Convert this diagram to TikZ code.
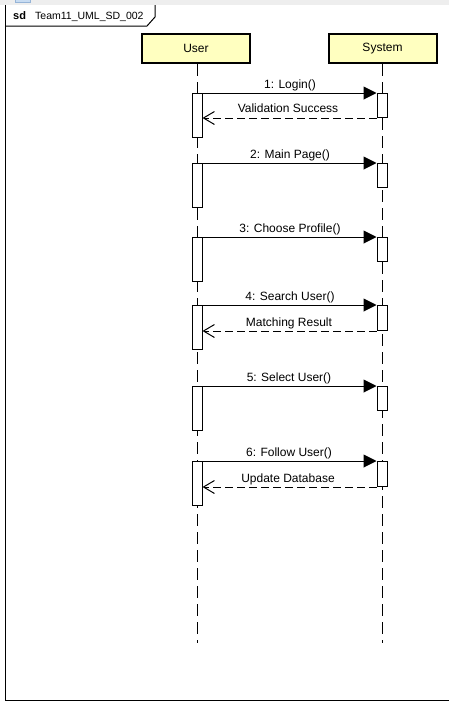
\documentclass[tikz,border=0pt]{standalone}
\usepackage{fontspec}
\setmainfont{Liberation Sans}
\usetikzlibrary{arrows.meta}
\tikzset{
  actor/.style={draw, line width=2pt, fill=actorfill, minimum width=108pt, minimum height=29pt, inner sep=0pt, font=\fontsize{12}{14}\selectfont},
  actbar/.style={draw, line width=1pt, fill=white, minimum width=10pt, minimum height=44pt, inner sep=0pt, anchor=north},
  life/.style={line width=1pt, dash pattern=on 12pt off 6pt},
  sync/.style={line width=1pt, -{Triangle[length=13pt,width=13pt]}},
  reply/.style={line width=1pt, dash pattern=on 8pt off 4pt, -{Straight Barb[length=11pt,width=13pt,line width=1pt]}},
  msg/.style={font=\fontsize{12}{14}\selectfont, inner sep=0pt, anchor=base},
}
\definecolor{actorfill}{RGB}{255,255,192}
\definecolor{stripgray}{RGB}{238,238,238}
\definecolor{tabblue}{RGB}{200,220,242}
\definecolor{tabblueline}{RGB}{150,180,215}
\begin{document}
\begin{tikzpicture}[x=1pt,y=-1pt]
\useasboundingbox (0,0) rectangle (449,705);
% top strip
\fill[stripgray] (0,0) rectangle (449,5);
\filldraw[fill=tabblue, draw=tabblueline, line width=0.6pt] (15,-1) rectangle (30,2);
% frame
\draw[line width=1pt] (5,5) -- (5,700) -- (455,700);
\draw[line width=1pt] (5,26) -- (147,26) -- (155,17) -- (155,5);
\node[anchor=base west, inner sep=0pt, font=\fontsize{11}{13}\selectfont\bfseries] (sd) at (13,19) {sd};
\node[anchor=base west, inner sep=0pt, font=\fontsize{10.5}{13}\selectfont] (title) at (35,19) {Team11\_UML\_SD\_002};
% actors
\node[actor] (u) at (196,48.5) {User};
\node[actor] (s) at (382.5,48.5) {System};
\coordinate (uend) at (197,643);
\coordinate (send) at (382,643);
\draw[life] (u.south -| uend) -- (uend);
\draw[life] (s.south -| send) -- (send);
% activation bars
\foreach \i/\y in {1/93,2/163,3/237,4/305,5/386,6/461}{
  \node[actbar] (ua\i) at (197,\y) {};
}
\node[actbar, minimum height=24pt] (sa1) at (382,93) {};
\node[actbar, minimum height=24pt] (sa2) at (382,163) {};
\node[actbar, minimum height=24pt] (sa3) at (382,237) {};
\node[actbar, minimum height=25pt] (sa4) at (382,305) {};
\node[actbar, minimum height=24pt] (sa5) at (382,386) {};
\node[actbar, minimum height=25pt] (sa6) at (382,461) {};
% messages
\draw[sync] (ua1.north east) -- (sa1.north west);
\node[msg] (m1) at (290,88) {1: Login()};
\draw[reply] (sa1.south west) -- (ua1.east |- sa1.south);
\node[msg] (r1) at (288,112) {Validation Success};
\draw[sync] (ua2.north east) -- (sa2.north west);
\node[msg] (m2) at (290,158) {2: Main Page()};
\draw[sync] (ua3.north east) -- (sa3.north west);
\node[msg] (m3) at (290,232) {3: Choose Profile()};
\draw[sync] (ua4.north east) -- (sa4.north west);
\node[msg] (m4) at (290,300) {4: Search User()};
\draw[reply] (sa4.south west) -- (ua4.east |- sa4.south);
\node[msg] (r4) at (289,326) {Matching Result};
\draw[sync] (ua5.north east) -- (sa5.north west);
\node[msg] (m5) at (289,381) {5: Select User()};
\draw[sync] (ua6.north east) -- (sa6.north west);
\node[msg] (m6) at (289,456) {6: Follow User()};
\draw[reply] (sa6.south west) -- (ua6.east |- sa6.south);
\node[msg] (r6) at (288,482) {Update Database};
\end{tikzpicture}
\end{document}
